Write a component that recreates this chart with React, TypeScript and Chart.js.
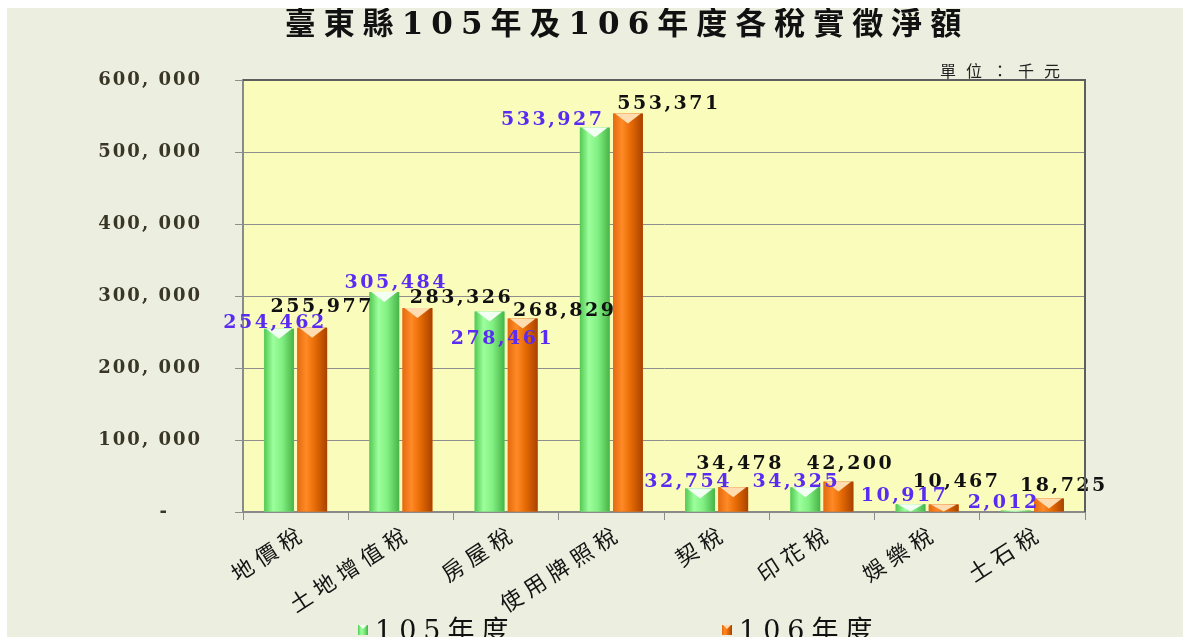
import React, { useEffect, useRef } from "react";
import { Chart, registerables } from "chart.js";

Chart.register(...registerables);

const titleText = "臺東縣105年及106年度各稅實徵淨額";
const unitText = "單位：千元";
const categories = ["地價稅", "土地增值稅", "房屋稅", "使用牌照稅", "契稅", "印花稅", "娛樂稅", "土石稅"];
const seriesNames = ["105年度", "106年度"];
const values105 = [254462, 305484, 278461, 533927, 32754, 34325, 10917, 2012];
const values106 = [255977, 283326, 268829, 553371, 34478, 42200, 10467, 18725];
const yMin = 0;
const yMax = 600000;
const yStep = 100000;

// label nudges (relative to each bar's top), used only for value-label placement
const labelDx105 = [-4, 12, 13, -42, -12, -9, -6, -12];
const labelDy105 = [-6, -9, 28, -8, -6, -5, -8, -7];
const labelDx106 = [10, 44, 42, 41, 7, 12, 13, 15];
const labelDy106 = [-21, -10, -7, -10, -23, -18, -22, -12];

const NUM_FONT = '"DejaVu Serif", "Noto Sans CJK TC", serif';
const CJK_FONT = '"Noto Sans CJK TC", "DejaVu Serif", sans-serif';

const fmt = (v: number) => v.toLocaleString("en-US");

const gradStops = [
  [
    [0, "#52C852"],
    [0.3, "#9CFF9C"],
    [0.6, "#82F082"],
    [1, "#46B446"],
  ],
  [
    [0, "#E46A10"],
    [0.3, "#FF8A26"],
    [0.6, "#E66A04"],
    [1, "#A84200"],
  ],
];
const chevronColors = ["rgba(248,255,248,0.95)", "#FFDDB0"];

const decorPlugin = {
  id: "decor",
  beforeDraw(chart: any) {
    const { ctx, chartArea: a } = chart;
    ctx.save();
    ctx.fillStyle = "#FAFCBC";
    ctx.fillRect(a.left, a.top, a.right - a.left, a.bottom - a.top);
    ctx.restore();
    ctx.letterSpacing = "2px";
  },
  afterDatasetDraw(chart: any, args: any) {
    const { ctx } = chart;
    const idx = args.index;
    ctx.save();
    args.meta.data.forEach((el: any) => {
      const { x, y, base, width } = el.getProps(["x", "y", "base", "width"], true);
      const l = x - width / 2;
      const r = x + width / 2;
      const g = ctx.createLinearGradient(l, 0, r, 0);
      gradStops[idx].forEach((s: any) => g.addColorStop(s[0], s[1]));
      ctx.fillStyle = g;
      ctx.fillRect(l, y, width, base - y);
      const h = Math.min(10, base - y);
      ctx.beginPath();
      ctx.moveTo(l + 2, y);
      ctx.lineTo(r - 2, y);
      ctx.lineTo(x, y + h);
      ctx.closePath();
      ctx.fillStyle = chevronColors[idx];
      ctx.fill();
    });
    ctx.restore();
  },
  afterDatasetsDraw(chart: any) {
    const { ctx } = chart;
    ctx.save();
    ctx.letterSpacing = "2.5px";
    ctx.font = `bold 19px ${NUM_FONT}`;
    ctx.textAlign = "center";
    ctx.textBaseline = "middle";
    [0, 1].forEach((di) => {
      const meta = chart.getDatasetMeta(di);
      const vals = di === 0 ? values105 : values106;
      const dxs = di === 0 ? labelDx105 : labelDx106;
      const dys = di === 0 ? labelDy105 : labelDy106;
      ctx.fillStyle = di === 0 ? "#5A2CF2" : "#111111";
      meta.data.forEach((el: any, i: number) => {
        const { x, y } = el.getProps(["x", "y"], true);
        ctx.fillText(fmt(vals[i]), x + dxs[i], y + dys[i]);
      });
    });
    ctx.restore();
  },
  afterDraw(chart: any) {
    const { ctx, chartArea: a } = chart;
    const xs = chart.scales.x;
    ctx.save();
    // plot border top/right
    ctx.strokeStyle = "#5E5E5E";
    ctx.lineWidth = 2;
    ctx.beginPath();
    ctx.moveTo(a.left, a.top);
    ctx.lineTo(a.right, a.top);
    ctx.lineTo(a.right, a.bottom);
    ctx.stroke();

    // category labels, rotated
    ctx.letterSpacing = "6px";
    ctx.font = `22px ${CJK_FONT}`;
    ctx.fillStyle = "#141414";
    ctx.textAlign = "right";
    ctx.textBaseline = "middle";
    const ang = (33 * Math.PI) / 180;
    categories.forEach((c, i) => {
      const px = xs.getPixelForTick(i);
      ctx.save();
      ctx.translate(px + 8, a.bottom + 18);
      ctx.rotate(-ang);
      ctx.fillText(c, 0, 0);
      ctx.restore();
    });

    // title
    ctx.letterSpacing = "8px";
    ctx.font = `bold 31px ${NUM_FONT}`;
    ctx.fillStyle = "#111";
    ctx.textAlign = "center";
    ctx.textBaseline = "middle";
    ctx.fillText(titleText, 620, 18);

    // unit
    ctx.letterSpacing = "10px";
    ctx.font = `16px ${CJK_FONT}`;
    ctx.fillStyle = "#222";
    ctx.fillText(unitText, 998, 63);

    // legend
    ctx.letterSpacing = "7px";
    ctx.font = `27px ${NUM_FONT}`;
    ctx.textAlign = "left";
    const items = [
      { x: 351, name: seriesNames[0] },
      { x: 715, name: seriesNames[1] },
    ];
    items.forEach((it, i) => {
      const g = ctx.createLinearGradient(it.x, 0, it.x + 10, 0);
      gradStops[i].forEach((s: any) => g.addColorStop(s[0], s[1]));
      ctx.fillStyle = g;
      ctx.fillRect(it.x, 617, 10, 10);
      ctx.beginPath();
      ctx.moveTo(it.x + 1, 617);
      ctx.lineTo(it.x + 9, 617);
      ctx.lineTo(it.x + 5, 621);
      ctx.closePath();
      ctx.fillStyle = chevronColors[i];
      ctx.fill();
      ctx.fillStyle = "#111";
      ctx.fillText(it.name, it.x + 17, 625);
    });
    ctx.restore();
    ctx.letterSpacing = "0px";
  },
};

export default function App() {
  const ref = useRef<HTMLCanvasElement | null>(null);
  useEffect(() => {
    if (!ref.current) return;
    const chart = new Chart(ref.current, {
      type: "bar",
      data: {
        labels: categories,
        datasets: [
          { label: seriesNames[0], data: values105, backgroundColor: "#7EEB7E", borderWidth: 0 },
          { label: seriesNames[1], data: values106, backgroundColor: "#E8700A", borderWidth: 0 },
        ],
      },
      options: {
        responsive: false,
        animation: false,
        devicePixelRatio: 1,
        layout: { padding: { top: 72, left: 0, right: 98, bottom: 36 } },
        datasets: { bar: { categoryPercentage: 0.63, barPercentage: 0.9 } },
        plugins: {
          legend: { display: false },
          title: { display: false },
          tooltip: { enabled: false },
        },
        scales: {
          x: {
            afterFit: (s: any) => {
              s.height = 120;
            },
            grid: {
              drawOnChartArea: false,
              drawTicks: true,
              tickLength: 8,
              color: "#8C8C8C",
              offset: true,
            },
            border: { color: "#8A8A8A", width: 2 },
            ticks: {
              display: false,
              autoSkip: false,
            },
          },
          y: {
            min: yMin,
            max: yMax,
            afterFit: (s: any) => {
              s.width = 236;
            },
            grid: { color: "#8E8E8E", lineWidth: 1, tickLength: 8 },
            border: { color: "#8A8A8A", width: 2 },
            ticks: {
              stepSize: yStep,
              padding: 33,
              color: "#3A3626",
              font: { family: NUM_FONT, size: 18, weight: "bold" },
              callback: (v: any) => (Number(v) === 0 ? "-    " : fmt(Number(v)).replace(",", ", ")),
            },
          },
        },
      },
      plugins: [decorPlugin],
    });
    return () => chart.destroy();
  }, []);

  return (
    <div
      style={{
        position: "fixed",
        left: 7,
        top: 8,
        width: 1176,
        height: 629,
        overflow: "hidden",
        background: "#ECEFDF",
      }}
    >
      <canvas ref={ref} width={1176} height={660} style={{ display: "block" }} />
    </div>
  );
}
